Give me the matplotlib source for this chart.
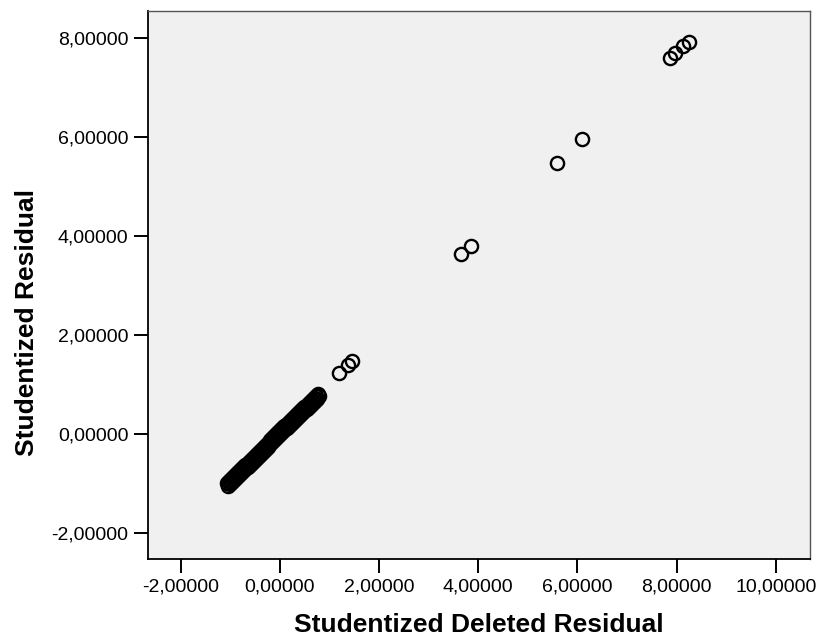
import numpy as np
import matplotlib.pyplot as plt

plt.rcParams['font.family'] = ['Liberation Sans', 'DejaVu Sans']

# bulk of the cases (dense band)
sdr_bulk = [-1.07, -1.05, -1.03, -1.01, -0.99, -0.97, -0.95, -0.93, -0.91, -0.89,
            -0.87, -0.85, -0.83, -0.81, -0.79, -0.77, -0.75, -0.73, -0.71, -0.69,
            -0.67, -0.65, -0.63, -0.61, -0.59, -0.57, -0.55, -0.53, -0.51, -0.49,
            -0.47, -0.45, -0.43, -0.41, -0.39, -0.37, -0.35, -0.33, -0.31, -0.29,
            -0.27, -0.25, -0.23, -0.21, -0.19, -0.17, -0.15, -0.13, -0.11, -0.09,
            -0.07, -0.05, -0.03, -0.01, 0.01, 0.03, 0.05, 0.07, 0.09, 0.11,
            0.13, 0.15, 0.17, 0.19, 0.21, 0.23, 0.25, 0.27, 0.29, 0.31,
            0.33, 0.35, 0.37, 0.39, 0.41, 0.43, 0.45, 0.47, 0.49, 0.51,
            0.53, 0.55, 0.57, 0.59, 0.61, 0.63, 0.65, 0.67, 0.69, 0.71,
            0.73, 0.75, 0.77, 0.79]
sr_bulk = [-0.99, -1.05, -0.95, -1.01, -0.91, -0.97, -0.87, -0.93, -0.83, -0.89,
           -0.79, -0.85, -0.75, -0.81, -0.71, -0.77, -0.67, -0.73, -0.63, -0.69,
           -0.60, -0.66, -0.56, -0.62, -0.52, -0.58, -0.48, -0.54, -0.44, -0.50,
           -0.40, -0.46, -0.36, -0.42, -0.32, -0.38, -0.28, -0.34, -0.24, -0.30,
           -0.21, -0.27, -0.17, -0.23, -0.13, -0.19, -0.09, -0.15, -0.05, -0.11,
           -0.01, -0.07, 0.03, -0.03, 0.07, 0.01, 0.11, 0.05, 0.15, 0.09,
           0.18, 0.12, 0.22, 0.16, 0.26, 0.20, 0.30, 0.24, 0.34, 0.28,
           0.38, 0.32, 0.42, 0.36, 0.46, 0.40, 0.50, 0.44, 0.54, 0.48,
           0.57, 0.51, 0.61, 0.55, 0.65, 0.59, 0.69, 0.63, 0.73, 0.67,
           0.77, 0.71, 0.80, 0.76]

# outlying cases
sdr_out = [1.19, 1.37, 1.45, 3.65, 3.85, 5.58, 6.09, 7.86, 7.96, 8.12, 8.25]
sr_out = [1.23, 1.39, 1.47, 3.64, 3.80, 5.47, 5.96, 7.60, 7.70, 7.84, 7.92]

xticks = [-2, 0, 2, 4, 6, 8, 10]
yticks = [-2, 0, 2, 4, 6, 8]

fig = plt.figure(figsize=(8.2, 6.39), dpi=100)
ax = fig.add_axes([0.1805, 0.1252, 0.8073, 0.8576])
ax.set_facecolor('#f0f0f0')

ax.plot(sdr_bulk, sr_bulk, 'o', mfc='none', mec='black', ms=9.5, mew=1.7)
ax.plot(sdr_out, sr_out, 'o', mfc='none', mec='black', ms=9.5, mew=1.7)

ax.set_xlim(-2.66, 10.69)
ax.set_ylim(-2.53, 8.55)
ax.set_xticks(xticks)
ax.set_yticks(yticks)
ax.set_xticklabels([('%.5f' % v).replace('.', ',') for v in xticks])
ax.set_yticklabels([('%.5f' % v).replace('.', ',') for v in yticks])
ax.tick_params(direction='out', length=10, width=1.4, labelsize=14, pad=4, color='black')

for s in ['left', 'bottom']:
    ax.spines[s].set_color('black')
    ax.spines[s].set_linewidth(1.3)
for s in ['top', 'right']:
    ax.spines[s].set_color('#555555')
    ax.spines[s].set_linewidth(1.0)

ax.set_xlabel('Studentized Deleted Residual', fontsize=19, fontweight='bold')
ax.set_ylabel('Studentized Residual', fontsize=19, fontweight='bold')
ax.xaxis.set_label_coords(0.5, -0.0985)
ax.yaxis.set_label_coords(-0.165, 0.432)

fig.savefig('out.png', dpi=100)
